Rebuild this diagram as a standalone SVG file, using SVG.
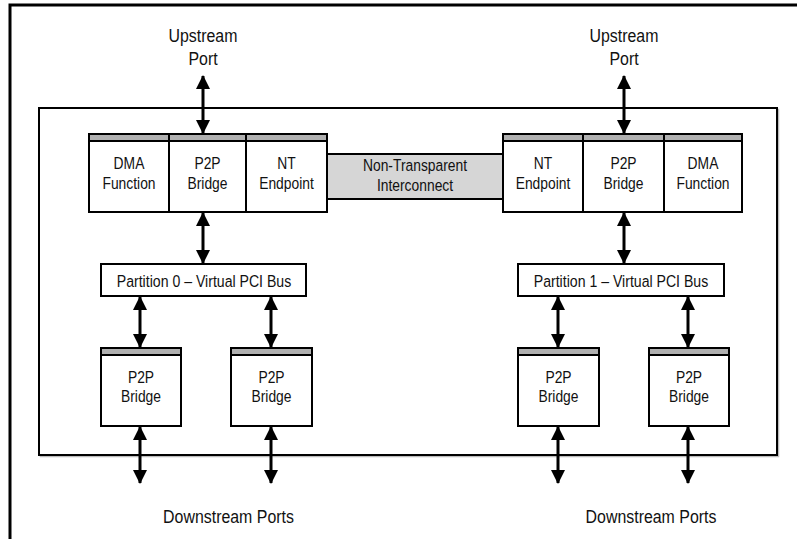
<svg xmlns="http://www.w3.org/2000/svg" width="797" height="539" viewBox="0 0 797 539">
<style>
.frame{fill:none;stroke:#000;stroke-width:3}
.inner{fill:#fff;stroke:#000;stroke-width:2}
.shadow{fill:none;stroke:#bbb;stroke-width:1.5}
.box{fill:#fff;stroke:#000;stroke-width:2}
.bar{fill:#b0b0b0;stroke:#000;stroke-width:2}
.nti{fill:#d6d6d6;stroke:#000;stroke-width:2}
.t{font-family:"Liberation Sans",Arial,sans-serif;font-size:16.5px;fill:#111;text-anchor:middle}
.big{font-size:18.5px}
.mid{font-size:17px}
.c{stroke:#000;stroke-width:3;fill:none;marker-start:url(#ah);marker-end:url(#ah)}
</style>
<defs>
<marker id="ah" markerUnits="userSpaceOnUse" markerWidth="14" markerHeight="14" viewBox="0 0 14 14" refX="13" refY="7" orient="auto-start-reverse">
<path d="M0,0 L14,7 L0,14 z" fill="#000"/>
</marker>
</defs>
<rect width="797" height="539" fill="#fff"/>
<path class="frame" d="M10,541 L10,5 L799,5"/>
<g id="chip">
<rect class="shadow" x="40.5" y="109.5" width="738" height="347"/>
<rect class="inner" x="39" y="108" width="738" height="347"/>
</g>
<g id="labels">
<text class="t big" transform="translate(203,41.5) scale(0.86,1)">Upstream</text>
<text class="t big" transform="translate(203,65) scale(0.86,1)">Port</text>
<text class="t big" transform="translate(624,41.5) scale(0.86,1)">Upstream</text>
<text class="t big" transform="translate(624,65) scale(0.86,1)">Port</text>
<text class="t big" transform="translate(228.5,523) scale(0.86,1)">Downstream Ports</text>
<text class="t big" transform="translate(651,523) scale(0.86,1)">Downstream Ports</text>
</g>
<g id="nti">
<rect class="nti" x="327" y="154" width="176" height="45"/>
<text class="t" transform="translate(415,171) scale(0.84,1)">Non-Transparent</text>
<text class="t" transform="translate(415,191) scale(0.84,1)">Interconnect</text>
</g>
<g id="l-dma">
<rect class="box" x="89" y="134" width="80" height="78"/>
<rect class="bar" x="89" y="134" width="80" height="7"/>
<text class="t" transform="translate(129,168.5) scale(0.84,1)">DMA</text>
<text class="t" transform="translate(129,189) scale(0.84,1)">Function</text>
</g>
<g id="l-p2p">
<rect class="box" x="169" y="134" width="77" height="78"/>
<rect class="bar" x="169" y="134" width="77" height="7"/>
<text class="t" transform="translate(207.5,168.5) scale(0.84,1)">P2P</text>
<text class="t" transform="translate(207.5,189) scale(0.84,1)">Bridge</text>
</g>
<g id="l-nt">
<rect class="box" x="246" y="134" width="81" height="78"/>
<rect class="bar" x="246" y="134" width="81" height="7"/>
<text class="t" transform="translate(286.5,168.5) scale(0.84,1)">NT</text>
<text class="t" transform="translate(286.5,189) scale(0.84,1)">Endpoint</text>
</g>
<g id="r-nt">
<rect class="box" x="503" y="134" width="80" height="78"/>
<rect class="bar" x="503" y="134" width="80" height="7"/>
<text class="t" transform="translate(543,168.5) scale(0.84,1)">NT</text>
<text class="t" transform="translate(543,189) scale(0.84,1)">Endpoint</text>
</g>
<g id="r-p2p">
<rect class="box" x="583" y="134" width="81" height="78"/>
<rect class="bar" x="583" y="134" width="81" height="7"/>
<text class="t" transform="translate(623.5,168.5) scale(0.84,1)">P2P</text>
<text class="t" transform="translate(623.5,189) scale(0.84,1)">Bridge</text>
</g>
<g id="r-dma">
<rect class="box" x="664" y="134" width="78" height="78"/>
<rect class="bar" x="664" y="134" width="78" height="7"/>
<text class="t" transform="translate(703,168.5) scale(0.84,1)">DMA</text>
<text class="t" transform="translate(703,189) scale(0.84,1)">Function</text>
</g>
<g id="part0">
<rect class="box" x="101" y="264" width="205" height="32"/>
<text class="t mid" transform="translate(204,287) scale(0.83,1)">Partition 0 – Virtual PCI Bus</text>
</g>
<g id="part1">
<rect class="box" x="518" y="264" width="206" height="32"/>
<text class="t mid" transform="translate(621,287) scale(0.83,1)">Partition 1 – Virtual PCI Bus</text>
</g>
<g id="b1">
<rect class="box" x="101" y="348" width="80" height="78"/>
<rect class="bar" x="101" y="348" width="80" height="7"/>
<text class="t" transform="translate(141,382.5) scale(0.84,1)">P2P</text>
<text class="t" transform="translate(141,402) scale(0.84,1)">Bridge</text>
</g>
<g id="b2">
<rect class="box" x="231" y="348" width="81" height="78"/>
<rect class="bar" x="231" y="348" width="81" height="7"/>
<text class="t" transform="translate(271.5,382.5) scale(0.84,1)">P2P</text>
<text class="t" transform="translate(271.5,402) scale(0.84,1)">Bridge</text>
</g>
<g id="b3">
<rect class="box" x="518" y="348" width="81" height="78"/>
<rect class="bar" x="518" y="348" width="81" height="7"/>
<text class="t" transform="translate(558.5,382.5) scale(0.84,1)">P2P</text>
<text class="t" transform="translate(558.5,402) scale(0.84,1)">Bridge</text>
</g>
<g id="b4">
<rect class="box" x="649" y="348" width="80" height="78"/>
<rect class="bar" x="649" y="348" width="80" height="7"/>
<text class="t" transform="translate(689,382.5) scale(0.84,1)">P2P</text>
<text class="t" transform="translate(689,402) scale(0.84,1)">Bridge</text>
</g>
<g id="connectors">
<path class="c" d="M203,76 L203,133"/>
<path class="c" d="M624,76 L624,133"/>
<path class="c" d="M203,213 L203,263"/>
<path class="c" d="M624,213 L624,263"/>
<path class="c" d="M140,297 L140,347"/>
<path class="c" d="M271,297 L271,347"/>
<path class="c" d="M558,297 L558,347"/>
<path class="c" d="M688,297 L688,347"/>
<path class="c" d="M140,427 L140,483"/>
<path class="c" d="M271,427 L271,483"/>
<path class="c" d="M558,427 L558,483"/>
<path class="c" d="M688,427 L688,483"/>
</g>
</svg>
